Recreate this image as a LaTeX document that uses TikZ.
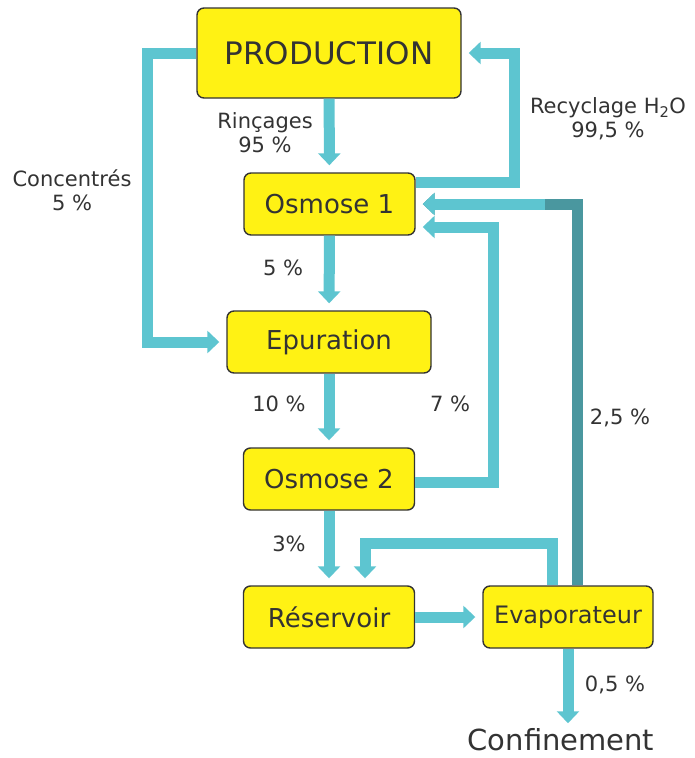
\documentclass[tikz,border=0pt]{standalone}
\usepackage{fontspec}
\setmainfont{DejaVu Sans}
\usetikzlibrary{arrows.meta}

\definecolor{flowlight}{HTML}{5DC5D0}
\definecolor{flowdark}{HTML}{4A979F}
\definecolor{boxyellow}{HTML}{FFF214}
\definecolor{inkgray}{HTML}{333333}

\begin{document}
\begin{tikzpicture}[x=1pt, y=-1pt, >={Triangle[width=22pt,length=12pt]},
    font=\fontsize{21}{24}\selectfont, text=inkgray]
                \useasboundingbox (0,0) rectangle (694,758);

                \tikzset{
                    stage/.style = {draw=inkgray, line width=1.4pt, fill=boxyellow, rounded corners=7pt,
                            inner sep=0pt, minimum height=62pt, font=\fontsize{26}{30}\selectfont},
                    flow/.style = {->, line width=11pt, flowlight, shorten >=7pt},
                    rate/.style = {align=center},
                }

                \node[stage, minimum width=264pt, minimum height=90pt, font=\fontsize{31}{34}\selectfont] (prod) at (329,53) {PRODUCTION};
                \node[stage, minimum width=171pt] (osm1) at (329.5,204) {Osmose 1};
                \node[stage, minimum width=204pt] (epur) at (329,342) {Epuration};
                \node[stage, minimum width=171pt] (osm2) at (329,479) {Osmose 2};
                \node[stage, minimum width=171pt] (res) at (329,617) {Réservoir};
                \node[stage, minimum width=170pt, font=\fontsize{24}{28}\selectfont] (evap) at (568,617) {Evaporateur};
                \node[font=\fontsize{29}{32}\selectfont] (conf) at (561,740) {Confinement};

                \draw[flow] (prod) -- (osm1);
                \draw[flow] (prod.west) -- ++(-49,0) |- (epur.west);
                \draw[flow] ([yshift=22pt]osm1.east) -| ([xshift=53pt]prod.east) -- (prod.east);
                \draw[flow] (osm1) -- (epur);
                \draw[flow] (epur) -- (osm2);
                \draw[flow] ([yshift=-3pt]osm2.east) -| ([xshift=78pt,yshift=-23pt]osm1.east) -- ([yshift=-23pt]osm1.east);
                \draw[flow] (osm2) -- (res);

                \draw[flow, flowdark] ([xshift=9pt]evap.north) |- (osm1.east);
                \coordinate (fade) at (545,204);
                \draw[flow] (fade) -- (osm1.east);

                \draw[flow] ([xshift=-16pt]evap.north) |- (365,543) -- ([xshift=36pt]res.north);
                \draw[flow] (res) -- (evap);
                \draw[flow, shorten >=2pt] (evap) -- (evap |- conf.north);

                \node[rate] (lrinc) at (265,133) {Rinçages\\95 \%};
                \node[rate] (lconc) at (72,190) {Concentrés\\5 \%};
                \node[rate] (lrecy) at (608,119) {Recyclage H\textsubscript{2}O\\99,5 \%};
                \node (lfive) at (283,268) {5 \%};
                \node (lten) at (279,404) {10 \%};
                \node (lseven) at (450,404) {7 \%};
                \node (ltwo) at (620,418) {2,5 \%};
                \node (lthree) at (289,544) {3\%};
                \node (lhalf) at (615,685) {0,5 \%};

            \end{tikzpicture}
\end{document}
